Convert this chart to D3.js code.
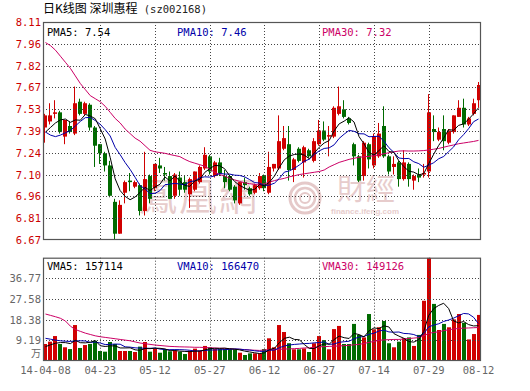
<!DOCTYPE html>
<html><head><meta charset="utf-8">
<script src="https://cdn.jsdelivr.net/npm/d3@7"></script>
<style>body{margin:0;background:#fff;}svg{display:block;}</style>
</head><body><svg id="c" width="530" height="391"></svg>
<script>
const dates = ["04-08","04-09","04-10","04-11","04-14","04-15","04-16","04-17","04-18","04-21","04-22","04-23","04-24","04-25","04-28","04-29","04-30",
"05-05","05-06","05-07","05-08","05-09","05-12","05-13","05-14","05-15","05-16","05-19","05-20","05-21","05-22","05-23","05-26","05-27","05-28","05-29","05-30",
"06-03","06-04","06-05","06-06","06-09","06-10","06-11","06-12","06-13","06-16","06-17","06-18","06-19","06-20","06-23","06-24","06-25","06-26","06-27","06-30",
"07-01","07-02","07-03","07-04","07-07","07-08","07-09","07-10","07-11","07-14","07-15","07-16","07-17","07-18","07-21","07-22","07-23","07-24","07-25","07-28","07-29","07-30","07-31",
"08-01","08-04","08-05","08-06","08-07","08-08","08-11","08-12"];

const openP = [7.41,7.45,7.50,7.51,7.35,7.42,7.37,7.58,7.50,7.56,7.41,7.30,7.24,7.16,6.92,6.71,6.98,7.06,7.02,7.03,6.86,7.09,7.01,7.16,7.11,7.09,6.96,7.08,7.05,6.97,7.00,7.05,7.14,7.22,7.09,7.18,7.09,7.09,7.02,6.91,7.05,7.01,6.98,7.01,7.09,6.98,7.14,7.14,7.27,7.30,7.13,7.27,7.18,7.26,7.19,7.30,7.39,7.35,7.35,7.50,7.53,7.47,7.30,7.22,7.09,7.30,7.16,7.22,7.42,7.22,7.15,7.18,7.07,7.17,7.06,7.10,7.10,7.12,7.40,7.33,7.40,7.31,7.38,7.48,7.54,7.43,7.50,7.59];
const highP = [7.50,7.57,7.59,7.52,7.46,7.45,7.68,7.60,7.58,7.57,7.42,7.30,7.25,7.19,6.94,6.93,7.06,7.11,7.06,7.04,7.25,7.10,7.17,7.21,7.15,7.12,7.11,7.12,7.09,7.08,7.12,7.16,7.28,7.23,7.19,7.21,7.13,7.09,7.03,7.05,7.08,7.02,7.04,7.11,7.10,7.25,7.17,7.49,7.42,7.42,7.21,7.28,7.29,7.27,7.34,7.46,7.45,7.42,7.55,7.68,7.59,7.48,7.31,7.23,7.32,7.31,7.37,7.44,7.55,7.23,7.22,7.19,7.26,7.18,7.10,7.14,7.17,7.63,7.49,7.41,7.49,7.40,7.49,7.59,7.60,7.48,7.60,7.71];
const lowP = [7.31,7.43,7.47,7.37,7.30,7.37,7.36,7.49,7.49,7.39,7.15,7.17,7.12,6.95,6.67,6.71,6.91,6.99,7.01,6.83,6.83,6.91,6.99,7.11,7.06,6.94,6.94,6.96,6.98,6.88,6.99,7.04,7.13,7.10,7.08,7.09,7.01,6.99,6.91,6.90,7.00,6.96,6.97,7.00,6.99,6.97,7.12,7.13,7.26,7.06,7.05,7.18,7.08,7.21,7.18,7.29,7.32,7.22,7.34,7.49,7.47,7.43,7.16,7.05,7.06,7.14,7.14,7.21,7.21,7.10,7.10,7.02,7.06,7.02,7.00,7.05,7.08,7.08,7.32,7.32,7.26,7.30,7.37,7.48,7.41,7.42,7.49,7.54];
const closeP = [7.49,7.49,7.51,7.38,7.46,7.38,7.57,7.50,7.57,7.41,7.29,7.24,7.16,6.96,6.71,6.90,7.05,7.05,7.05,6.86,7.07,6.94,7.17,7.14,7.10,6.94,7.10,7.00,7.00,7.07,7.12,7.15,7.23,7.12,7.18,7.11,7.05,7.00,6.93,7.05,7.03,6.97,7.03,7.09,7.01,7.15,7.17,7.32,7.34,7.13,7.20,7.19,7.28,7.22,7.32,7.39,7.33,7.36,7.54,7.55,7.48,7.44,7.22,7.06,7.31,7.20,7.35,7.37,7.22,7.12,7.17,7.07,7.18,7.07,7.09,7.08,7.11,7.51,7.38,7.38,7.32,7.39,7.49,7.54,7.43,7.47,7.57,7.69];

const ma5 = [7.38,7.41,7.44,7.46,7.466,7.444,7.46,7.458,7.496,7.486,7.468,7.402,7.334,7.212,7.072,6.994,6.956,6.934,6.952,6.982,7.016,6.994,7.018,7.036,7.084,7.058,7.09,7.056,7.028,7.022,7.058,7.068,7.114,7.138,7.16,7.158,7.138,7.092,7.054,7.028,7.012,6.996,7.002,7.034,7.026,7.05,7.09,7.148,7.198,7.222,7.232,7.236,7.228,7.204,7.242,7.28,7.308,7.324,7.388,7.434,7.452,7.474,7.446,7.35,7.302,7.246,7.228,7.258,7.29,7.252,7.246,7.19,7.152,7.122,7.116,7.098,7.106,7.172,7.234,7.292,7.34,7.396,7.392,7.424,7.434,7.464,7.50,7.54];
const ma10 = [7.38,7.36,7.35,7.36,7.375,7.39,7.42,7.45,7.475,7.476,7.456,7.431,7.396,7.354,7.279,7.231,7.179,7.134,7.082,7.027,7.005,6.975,6.976,6.994,7.033,7.037,7.042,7.037,7.032,7.053,7.058,7.079,7.085,7.083,7.091,7.108,7.103,7.103,7.096,7.094,7.085,7.067,7.047,7.044,7.027,7.031,7.043,7.075,7.116,7.124,7.141,7.163,7.188,7.201,7.232,7.256,7.272,7.276,7.296,7.338,7.366,7.391,7.385,7.369,7.368,7.349,7.351,7.352,7.32,7.277,7.246,7.209,7.205,7.206,7.184,7.172,7.148,7.162,7.178,7.204,7.219,7.251,7.282,7.329,7.363,7.402,7.448,7.466];
const ma30 = [7.97,7.95,7.92,7.88,7.84,7.80,7.75,7.70,7.66,7.62,7.60,7.58,7.55,7.51,7.47,7.44,7.40,7.37,7.34,7.32,7.29,7.26,7.25,7.245,7.24,7.232,7.225,7.218,7.20,7.185,7.175,7.165,7.155,7.135,7.115,7.10,7.09,7.075,7.065,7.055,7.045,7.04,7.035,7.031,7.04,7.05,7.06,7.068,7.075,7.085,7.092,7.10,7.105,7.11,7.115,7.12,7.13,7.15,7.165,7.18,7.19,7.20,7.207,7.214,7.217,7.22,7.225,7.229,7.237,7.244,7.25,7.255,7.256,7.255,7.255,7.256,7.258,7.262,7.267,7.272,7.28,7.288,7.295,7.303,7.308,7.313,7.318,7.325];

const volume = [7.56,8.6,11.1,7.56,6.1,5.3,16.0,5.8,7.1,7.6,9.0,4.45,4.15,8.45,7.56,4.45,4.45,4.45,4.0,6.4,8.45,4.15,5.5,3.7,5.2,4.3,4.6,4.15,3.1,4.6,5.5,4.6,6.7,6.1,5.3,5.3,5.3,5.2,5.2,3.7,2.67,3.4,3.4,3.4,5.3,10.1,6.1,16.0,12.9,7.9,5.2,5.2,5.6,4.0,7.9,11.1,9.3,5.2,14.2,15.6,7.56,7.56,16.5,11.6,10.5,20.9,14.1,15.0,17.8,7.9,6.1,8.6,10.1,10.5,6.7,11.6,26.8,46.0,25.4,13.8,16.5,15.0,18.5,20.9,17.0,9.6,12.0,20.5];
const vma5 = [6.4,7.2,7.9,8.2,8.18,7.73,9.21,8.15,8.06,8.36,9.1,6.79,6.46,6.73,6.72,5.81,5.81,5.87,4.98,4.75,5.55,5.49,5.7,5.64,5.4,4.57,4.66,4.39,4.27,4.15,4.39,4.39,4.9,5.5,5.64,5.6,5.74,5.44,5.26,4.94,4.41,4.03,3.67,3.31,3.63,5.12,5.66,8.18,10.08,10.6,9.62,9.44,7.36,5.58,5.58,6.76,7.58,7.5,9.54,11.08,10.37,10.02,12.28,11.76,10.74,13.41,14.72,14.42,15.66,15.14,12.18,11.08,10.1,8.64,8.4,9.5,13.14,20.32,23.3,24.72,25.7,23.34,17.84,16.94,17.58,16.2,15.6,15.71];
const vma10 = [10.1,9.7,9.3,9.0,8.8,8.7,8.9,9.0,8.9,8.27,8.42,8.0,7.31,7.4,7.54,7.46,6.3,6.17,5.86,5.74,5.68,5.65,5.79,5.31,5.08,5.06,5.08,5.05,4.96,4.78,4.48,4.53,4.65,4.89,4.9,5.0,5.07,5.17,5.38,5.29,5.01,4.89,4.56,4.29,4.29,4.77,4.85,5.93,6.7,7.12,7.37,7.55,7.77,7.83,8.09,8.19,8.51,7.43,7.56,8.33,8.57,8.8,9.89,10.65,10.91,11.89,12.37,13.35,13.71,12.94,12.8,12.9,12.26,12.15,11.77,10.84,12.11,15.21,15.97,16.56,17.6,18.24,19.08,20.12,21.15,20.95,19.47,16.65];
const vma30 = [20.9,20.3,19.7,19.0,17.8,15.5,14.0,13.2,12.4,11.8,11.2,10.8,10.5,10.2,9.9,9.6,9.3,9.0,8.5,8.0,7.7,7.4,7.1,6.9,6.7,6.5,6.4,6.3,6.25,6.2,6.1,6.1,6.0,5.9,5.8,5.7,5.6,5.5,5.3,5.2,5.1,4.9,4.8,4.7,4.9,5.1,5.1,5.2,5.3,5.4,5.5,5.6,5.8,5.9,6.1,6.3,6.4,6.5,6.6,6.7,6.8,7.0,7.2,7.4,7.8,8.3,8.7,9.2,9.4,9.5,9.6,9.6,9.8,10.0,10.2,10.4,11.2,12.3,12.7,13.0,13.5,13.9,14.2,14.5,14.6,14.7,14.8,14.91];

const priceTickLabels = ["6.67","6.81","6.96","7.10","7.24","7.39","7.53","7.67","7.82","7.96","8.11"];
const priceDomain = [6.6685, 8.1055];
const volTickLabels = ["9.19","18.38","27.58","36.77"];
const volDomain = [0, 45.96];
const xTickDates = ["04-08","04-23","05-12","05-27","06-12","06-27","07-14","07-29","08-12"];
const xTickLabels = ["14-04-08","04-23","05-12","05-27","06-12","06-27","07-14","07-29","08-12"];
const gridDates = ["04-23","05-12","05-27","06-12","06-27","07-14","07-29"];
const priceLegend = [{name:"PMA5", value:"7.54"},{name:"PMA10", value:"7.46"},{name:"PMA30", value:"7.32"}];
const volLegend = [{name:"VMA5", value:"157114"},{name:"VMA10", value:"166470"},{name:"VMA30", value:"149126"}];
const titleCn = "日K线图 深圳惠程";
const titleCode = " (sz002168)";

const RED = "#d00000", GREEN = "#006a00", GRID = "#444", BORDER = "#555";
const lineColors = ["#000000", "#0000aa", "#cc0066"];
const MONO = "'DejaVu Sans Mono', monospace";

const svg = d3.select("#c");
const L = 43, R = 481, PT = 22, PB = 240, VT = 257.7, VB = 361;

const x = d3.scaleBand().domain(dates).range([L, R]).paddingInner(0);
const cx = d => x(d) + x.bandwidth() / 2;
const y = d3.scaleLinear().domain(priceDomain).range([PB, PT]);
const yv = d3.scaleLinear().domain(volDomain).range([VB, VT]);

// title
const tt = svg.append("text").attr("x", L).attr("y", 13).attr("fill", "#000");
tt.append("tspan").attr("font-family", "'Noto Sans CJK SC', sans-serif").attr("font-size", 12).text(titleCn);
tt.append("tspan").attr("font-family", MONO).attr("font-size", 10.5).attr("fill", "#222").text(titleCode);

// watermark
const wm = svg.append("g").attr("fill", "#dfbcbc").attr("opacity", 0.75);
wm.append("text").attr("x", 139).attr("y", 210).attr("font-family", "'Noto Sans CJK TC', sans-serif")
  .attr("font-size", 38).attr("letter-spacing", 2).text("鳳凰網");
wm.append("text").attr("x", 337).attr("y", 200).attr("font-family", "'Noto Sans CJK TC', sans-serif")
  .attr("font-size", 29).text("財經");
wm.append("text").attr("x", 331).attr("y", 214).attr("font-family", "Arial, 'Liberation Sans', sans-serif")
  .attr("font-size", 8).attr("font-weight", "bold").text("finance.ifeng.com");
const lg = svg.append("g").attr("fill", "none").attr("stroke", "#dfbcbc").attr("opacity", 0.8);
[15, 10, 5].forEach((r, k) => lg.append("circle").attr("cx", 305).attr("cy", 198).attr("r", r).attr("stroke-width", 3 - k * 0.5));

// clip
const defs = svg.append("defs");
defs.append("clipPath").attr("id", "cp").append("rect").attr("x", L).attr("y", PT).attr("width", R - L).attr("height", PB - PT);
defs.append("clipPath").attr("id", "cv").append("rect").attr("x", L).attr("y", VT).attr("width", R - L).attr("height", VB - VT);

// candles
const bw = 4;
const cg = svg.append("g").attr("clip-path", "url(#cp)");
dates.forEach((d, i) => {
  const up = closeP[i] >= openP[i];
  const col = up ? RED : GREEN;
  const bx = Math.round(cx(d) - bw / 2);
  cg.append("line").attr("x1", bx + 1.5).attr("x2", bx + 1.5)
    .attr("y1", y(highP[i])).attr("y2", y(lowP[i])).attr("stroke", col).attr("stroke-width", 1);
  const top = y(Math.max(openP[i], closeP[i])), bot = y(Math.min(openP[i], closeP[i]));
  cg.append("rect").attr("x", bx).attr("width", bw).attr("y", top).attr("height", Math.max(1, bot - top)).attr("fill", col);
});

// volume bars
const vg = svg.append("g").attr("clip-path", "url(#cv)");
dates.forEach((d, i) => {
  const up = closeP[i] >= openP[i];
  const bx = Math.round(cx(d) - bw / 2);
  vg.append("rect").attr("x", bx).attr("width", bw).attr("y", yv(volume[i])).attr("height", VB - yv(volume[i]))
    .attr("fill", up ? RED : GREEN);
});

// grids
const gg = svg.append("g").attr("stroke", GRID).attr("stroke-dasharray", "1,2").attr("stroke-width", 1);
priceTickLabels.forEach((t, k) => {
  if (k === 0 || k === priceTickLabels.length - 1) return;
  const yy = Math.round(y(priceDomain[0] + k * (priceDomain[1] - priceDomain[0]) / (priceTickLabels.length - 1))) + 0.5;
  gg.append("line").attr("x1", L).attr("x2", R).attr("y1", yy).attr("y2", yy);
});
volTickLabels.forEach(t => {
  const yy = Math.round(yv(+t)) + 0.5;
  gg.append("line").attr("x1", L).attr("x2", R).attr("y1", yy).attr("y2", yy);
});
gridDates.forEach(d => {
  const xx = Math.round(cx(d)) + 0.5;
  gg.append("line").attr("x1", xx).attr("x2", xx).attr("y1", PT).attr("y2", PB);
  gg.append("line").attr("x1", xx).attr("x2", xx).attr("y1", VT).attr("y2", VB);
});

// MA lines
const lineP = d3.line().x((v, i) => cx(dates[i])).y(v => y(v));
const lineV = d3.line().x((v, i) => cx(dates[i])).y(v => yv(v));
const mg = svg.append("g").attr("clip-path", "url(#cp)");
[ma30, ma10, ma5].forEach((s, k) => mg.append("path").attr("d", lineP(s)).attr("fill", "none")
  .attr("stroke", lineColors[2 - k]).attr("stroke-width", 1));
const mvg = svg.append("g").attr("clip-path", "url(#cv)");
[vma30, vma10, vma5].forEach((s, k) => mvg.append("path").attr("d", lineV(s)).attr("fill", "none")
  .attr("stroke", lineColors[2 - k]).attr("stroke-width", 1));

// borders
svg.append("rect").attr("x", L + 0.5).attr("y", PT + 0.5).attr("width", R - L - 1).attr("height", PB - PT - 1)
  .attr("fill", "none").attr("stroke", BORDER).attr("stroke-width", 1.2);
svg.append("rect").attr("x", L + 0.5).attr("y", VT + 0.5).attr("width", R - L - 1).attr("height", VB - VT - 1)
  .attr("fill", "none").attr("stroke", BORDER).attr("stroke-width", 1.2);

// price axis labels
priceTickLabels.forEach((t, k) => {
  const yy = y(priceDomain[0] + k * (priceDomain[1] - priceDomain[0]) / (priceTickLabels.length - 1));
  svg.append("text").attr("x", 41).attr("y", yy + 4).attr("text-anchor", "end").attr("font-family", MONO)
    .attr("font-size", 10.5).attr("fill", "#cc0000").text(t);
});
// volume axis labels
volTickLabels.forEach(t => {
  svg.append("text").attr("x", 41).attr("y", yv(+t) + 4).attr("text-anchor", "end").attr("font-family", MONO)
    .attr("font-size", 10.5).attr("fill", "#666").text(t);
});
svg.append("text").attr("x", 41).attr("y", 357).attr("text-anchor", "end").attr("font-family", "'Noto Sans CJK SC', sans-serif")
  .attr("font-size", 10).attr("fill", "#666").text("万");

// x labels
xTickDates.forEach((d, k) => {
  svg.append("text").attr("x", cx(d)).attr("y", 374).attr("text-anchor", "middle").attr("font-family", MONO)
    .attr("font-size", 10.5).attr("fill", "#666").text(xTickLabels[k]);
});

// legends
const legX = [47, 177, 322];
priceLegend.forEach((e, k) => svg.append("text").attr("x", legX[k]).attr("y", 36).attr("font-family", MONO)
  .attr("font-size", 10.5).attr("fill", lineColors[k]).text(e.name + ": " + e.value));
volLegend.forEach((e, k) => svg.append("text").attr("x", legX[k]).attr("y", 270).attr("font-family", MONO)
  .attr("font-size", 10.5).attr("fill", lineColors[k]).text(e.name + ": " + e.value));
</script></body></html>
